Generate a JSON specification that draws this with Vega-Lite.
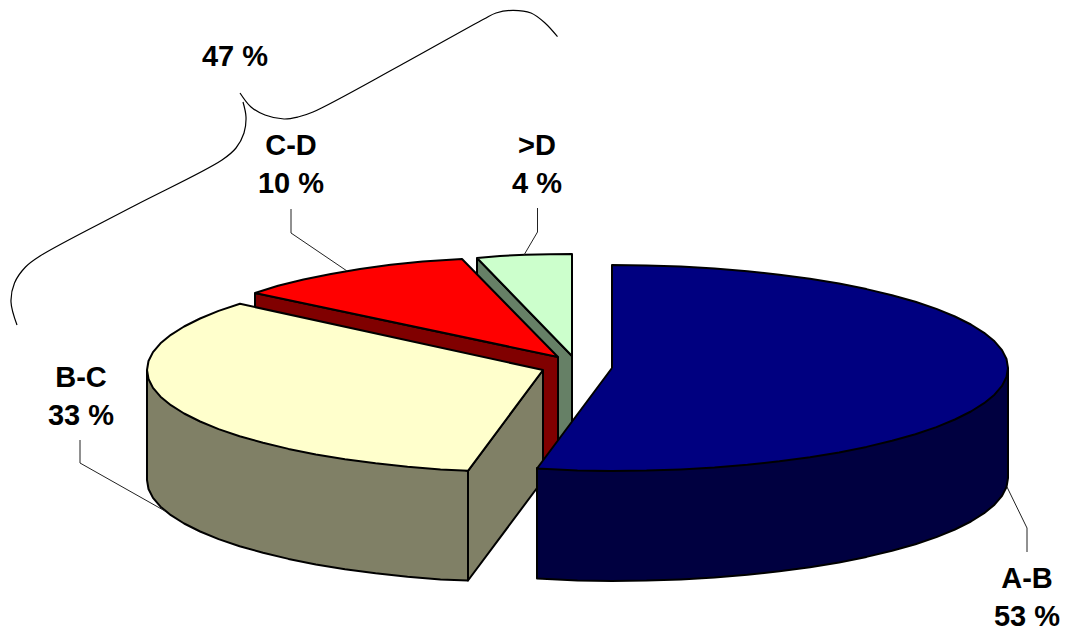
{"$schema":"https://vega.github.io/schema/vega-lite/v6.json","width":1065,"height":628,"autosize":{"type":"none"},"padding":0,"background":"white","view":{"stroke":null},
"datasets":{
"faces":[
{"face":"D side","i":0,"x":477,"y":258},{"face":"D side","i":1,"x":572,"y":356},{"face":"D side","i":2,"x":572,"y":466},{"face":"D side","i":3,"x":477,"y":368},{"face":"D side","i":4,"x":477,"y":258},
{"face":"D top","i":0,"x":572,"y":356},{"face":"D top","i":1,"x":477,"y":258},{"face":"D top","i":2,"x":500,"y":256},{"face":"D top","i":3,"x":525,"y":254.8},{"face":"D top","i":4,"x":550,"y":254.2},{"face":"D top","i":5,"x":572,"y":254},{"face":"D top","i":6,"x":572,"y":356},
{"face":"CD side","i":0,"x":255,"y":293},{"face":"CD side","i":1,"x":558,"y":357},{"face":"CD side","i":2,"x":558,"y":467},{"face":"CD side","i":3,"x":255,"y":403},{"face":"CD side","i":4,"x":255,"y":293},
{"face":"CD top","i":0,"x":558,"y":357},{"face":"CD top","i":1,"x":255,"y":293},{"face":"CD top","i":2,"x":278,"y":285.7},{"face":"CD top","i":3,"x":303.5,"y":279.5},{"face":"CD top","i":4,"x":330.9,"y":274},{"face":"CD top","i":5,"x":360,"y":269},{"face":"CD top","i":6,"x":390.6,"y":264.7},{"face":"CD top","i":7,"x":422.6,"y":261.5},{"face":"CD top","i":8,"x":462,"y":259},{"face":"CD top","i":9,"x":558,"y":357},
{"face":"BC side","i":0,"x":147,"y":370},{"face":"BC side","i":1,"x":147,"y":480},{"face":"BC side","i":2,"x":148.5,"y":489},{"face":"BC side","i":3,"x":153,"y":497.9},{"face":"BC side","i":4,"x":160.5,"y":506.7},{"face":"BC side","i":5,"x":170.9,"y":515.2},{"face":"BC side","i":6,"x":184.1,"y":523.5},{"face":"BC side","i":7,"x":200.1,"y":531.5},{"face":"BC side","i":8,"x":218.6,"y":539.1},{"face":"BC side","i":9,"x":239.6,"y":546.2},{"face":"BC side","i":10,"x":263,"y":552.8},{"face":"BC side","i":11,"x":288.5,"y":558.9},{"face":"BC side","i":12,"x":315.9,"y":564.4},{"face":"BC side","i":13,"x":345,"y":569.2},{"face":"BC side","i":14,"x":375.6,"y":573.3},{"face":"BC side","i":15,"x":407.6,"y":576.8},{"face":"BC side","i":16,"x":440.5,"y":579.5},{"face":"BC side","i":17,"x":468,"y":580.5},{"face":"BC side","i":18,"x":468,"y":471},{"face":"BC side","i":19,"x":147,"y":370},
{"face":"BC cut","i":0,"x":468,"y":471},{"face":"BC cut","i":1,"x":543,"y":370},{"face":"BC cut","i":2,"x":543,"y":480},{"face":"BC cut","i":3,"x":468,"y":580.5},{"face":"BC cut","i":4,"x":468,"y":471},
{"face":"BC top","i":0,"x":543,"y":370},{"face":"BC top","i":1,"x":240,"y":303.8},{"face":"BC top","i":2,"x":218.6,"y":310.9},{"face":"BC top","i":3,"x":200.1,"y":318.5},{"face":"BC top","i":4,"x":184.1,"y":326.5},{"face":"BC top","i":5,"x":170.9,"y":334.8},{"face":"BC top","i":6,"x":160.5,"y":343.3},{"face":"BC top","i":7,"x":153,"y":352.1},{"face":"BC top","i":8,"x":148.5,"y":361},{"face":"BC top","i":9,"x":147,"y":370},{"face":"BC top","i":10,"x":148.5,"y":379},{"face":"BC top","i":11,"x":153,"y":387.9},{"face":"BC top","i":12,"x":160.5,"y":396.7},{"face":"BC top","i":13,"x":170.9,"y":405.2},{"face":"BC top","i":14,"x":184.1,"y":413.5},{"face":"BC top","i":15,"x":200.1,"y":421.5},{"face":"BC top","i":16,"x":218.6,"y":429.1},{"face":"BC top","i":17,"x":239.6,"y":436.2},{"face":"BC top","i":18,"x":263,"y":442.8},{"face":"BC top","i":19,"x":288.5,"y":448.9},{"face":"BC top","i":20,"x":315.9,"y":454.4},{"face":"BC top","i":21,"x":345,"y":459.2},{"face":"BC top","i":22,"x":375.6,"y":463.3},{"face":"BC top","i":23,"x":407.6,"y":466.8},{"face":"BC top","i":24,"x":440.5,"y":469.5},{"face":"BC top","i":25,"x":468,"y":470.8},{"face":"BC top","i":26,"x":543,"y":370},
{"face":"AB side","i":0,"x":1008,"y":368},{"face":"AB side","i":1,"x":1008,"y":478},{"face":"AB side","i":2,"x":1006.5,"y":487},{"face":"AB side","i":3,"x":1002,"y":495.9},{"face":"AB side","i":4,"x":994.5,"y":504.7},{"face":"AB side","i":5,"x":984.1,"y":513.2},{"face":"AB side","i":6,"x":970.9,"y":521.5},{"face":"AB side","i":7,"x":954.9,"y":529.5},{"face":"AB side","i":8,"x":936.4,"y":537.1},{"face":"AB side","i":9,"x":915.4,"y":544.2},{"face":"AB side","i":10,"x":892,"y":550.8},{"face":"AB side","i":11,"x":866.5,"y":556.9},{"face":"AB side","i":12,"x":839.1,"y":562.4},{"face":"AB side","i":13,"x":810,"y":567.2},{"face":"AB side","i":14,"x":779.4,"y":571.3},{"face":"AB side","i":15,"x":747.4,"y":574.8},{"face":"AB side","i":16,"x":714.5,"y":577.5},{"face":"AB side","i":17,"x":680.8,"y":579.4},{"face":"AB side","i":18,"x":646.5,"y":580.6},{"face":"AB side","i":19,"x":612,"y":581},{"face":"AB side","i":20,"x":577.5,"y":580.6},{"face":"AB side","i":21,"x":537,"y":578.5},{"face":"AB side","i":22,"x":537,"y":468},{"face":"AB side","i":23,"x":612,"y":471},{"face":"AB side","i":24,"x":1008,"y":368},
{"face":"AB top","i":0,"x":612,"y":368},{"face":"AB top","i":1,"x":612,"y":265},{"face":"AB top","i":2,"x":646.5,"y":265.4},{"face":"AB top","i":3,"x":680.8,"y":266.6},{"face":"AB top","i":4,"x":714.5,"y":268.5},{"face":"AB top","i":5,"x":747.4,"y":271.2},{"face":"AB top","i":6,"x":779.4,"y":274.7},{"face":"AB top","i":7,"x":810,"y":278.8},{"face":"AB top","i":8,"x":839.1,"y":283.6},{"face":"AB top","i":9,"x":866.5,"y":289.1},{"face":"AB top","i":10,"x":892,"y":295.2},{"face":"AB top","i":11,"x":915.4,"y":301.8},{"face":"AB top","i":12,"x":936.4,"y":308.9},{"face":"AB top","i":13,"x":954.9,"y":316.5},{"face":"AB top","i":14,"x":970.9,"y":324.5},{"face":"AB top","i":15,"x":984.1,"y":332.8},{"face":"AB top","i":16,"x":994.5,"y":341.3},{"face":"AB top","i":17,"x":1002,"y":350.1},{"face":"AB top","i":18,"x":1006.5,"y":359},{"face":"AB top","i":19,"x":1008,"y":368},{"face":"AB top","i":20,"x":1006.5,"y":377},{"face":"AB top","i":21,"x":1002,"y":385.9},{"face":"AB top","i":22,"x":994.5,"y":394.7},{"face":"AB top","i":23,"x":984.1,"y":403.2},{"face":"AB top","i":24,"x":970.9,"y":411.5},{"face":"AB top","i":25,"x":954.9,"y":419.5},{"face":"AB top","i":26,"x":936.4,"y":427.1},{"face":"AB top","i":27,"x":915.4,"y":434.2},{"face":"AB top","i":28,"x":892,"y":440.8},{"face":"AB top","i":29,"x":866.5,"y":446.9},{"face":"AB top","i":30,"x":839.1,"y":452.4},{"face":"AB top","i":31,"x":810,"y":457.2},{"face":"AB top","i":32,"x":779.4,"y":461.3},{"face":"AB top","i":33,"x":747.4,"y":464.8},{"face":"AB top","i":34,"x":714.5,"y":467.5},{"face":"AB top","i":35,"x":680.8,"y":469.4},{"face":"AB top","i":36,"x":646.5,"y":470.6},{"face":"AB top","i":37,"x":612,"y":471},{"face":"AB top","i":38,"x":577.5,"y":470.6},{"face":"AB top","i":39,"x":537,"y":468.5},{"face":"AB top","i":40,"x":612,"y":368}
],
"leaders":[
{"to":"A-B","i":0,"x":1007,"y":487},{"to":"A-B","i":1,"x":1027,"y":528},{"to":"A-B","i":2,"x":1027,"y":552},
{"to":"B-C","i":0,"x":80,"y":440},{"to":"B-C","i":1,"x":80,"y":463},{"to":"B-C","i":2,"x":165,"y":511},
{"to":"C-D","i":0,"x":291,"y":209},{"to":"C-D","i":1,"x":291,"y":233},{"to":"C-D","i":2,"x":347,"y":271},
{"to":">D","i":0,"x":537.5,"y":208},{"to":">D","i":1,"x":537.5,"y":232},{"to":">D","i":2,"x":524,"y":255}
],
"brace":[
{"part":"upper","i":0,"x":557.5,"y":36.7},{"part":"upper","i":1,"x":545,"y":23},{"part":"upper","i":2,"x":531,"y":13},{"part":"upper","i":3,"x":513,"y":10.3},{"part":"upper","i":4,"x":496,"y":13},{"part":"upper","i":5,"x":484,"y":19},{"part":"upper","i":6,"x":400,"y":65.5},{"part":"upper","i":7,"x":313,"y":112},{"part":"upper","i":8,"x":298,"y":117},{"part":"upper","i":9,"x":284,"y":119},{"part":"upper","i":10,"x":265,"y":115},{"part":"upper","i":11,"x":251,"y":107},{"part":"upper","i":12,"x":240,"y":93},
{"part":"lower","i":0,"x":243,"y":102},{"part":"lower","i":1,"x":246,"y":117},{"part":"lower","i":2,"x":244,"y":133},{"part":"lower","i":3,"x":236,"y":148},{"part":"lower","i":4,"x":222,"y":160},{"part":"lower","i":5,"x":130,"y":208},{"part":"lower","i":6,"x":40,"y":256},{"part":"lower","i":7,"x":25.5,"y":267},{"part":"lower","i":8,"x":14.5,"y":283},{"part":"lower","i":9,"x":11,"y":302},{"part":"lower","i":10,"x":17,"y":325}
],
"labels":[
{"label":"47 %","x":235,"y":57},{"label":"C-D","x":291,"y":146},{"label":"10 %","x":291,"y":184},{"label":">D","x":537,"y":146},{"label":"4 %","x":537,"y":184},{"label":"B-C","x":81,"y":378},{"label":"33 %","x":81,"y":416},{"label":"A-B","x":1027,"y":579},{"label":"53 %","x":1027,"y":617}
]},
"layer":[
{"data":{"name":"faces"},"mark":{"type":"line","stroke":"black","strokeWidth":2,"strokeJoin":"round"},
"encoding":{"x":{"field":"x","type":"quantitative","scale":{"domain":[0,1065]},"axis":null},"y":{"field":"y","type":"quantitative","scale":{"domain":[628,0]},"axis":null},"order":{"field":"i","type":"quantitative"},"detail":{"field":"face"},
"fill":{"field":"face","type":"nominal","legend":null,"scale":{"domain":["D side","D top","CD side","CD top","BC side","BC cut","BC top","AB side","AB top"],"range":["#668066","#CCFFCC","#800000","#FF0000","#808066","#808066","#FFFFCC","#000040","#000080"]}}}},
{"data":{"name":"leaders"},"mark":{"type":"line","stroke":"#222222","strokeWidth":1},
"encoding":{"x":{"field":"x","type":"quantitative","scale":{"domain":[0,1065]},"axis":null},"y":{"field":"y","type":"quantitative","scale":{"domain":[628,0]},"axis":null},"order":{"field":"i","type":"quantitative"},"detail":{"field":"to"}}},
{"data":{"name":"brace"},"mark":{"type":"line","stroke":"black","strokeWidth":1.2,"interpolate":"catmull-rom"},
"encoding":{"x":{"field":"x","type":"quantitative","scale":{"domain":[0,1065]},"axis":null},"y":{"field":"y","type":"quantitative","scale":{"domain":[628,0]},"axis":null},"order":{"field":"i","type":"quantitative"},"detail":{"field":"part"}}},
{"data":{"name":"labels"},"mark":{"type":"text","font":"Liberation Sans","fontWeight":"bold","fontSize":29,"align":"center","baseline":"middle","color":"black"},
"encoding":{"x":{"field":"x","type":"quantitative","scale":{"domain":[0,1065]},"axis":null},"y":{"field":"y","type":"quantitative","scale":{"domain":[628,0]},"axis":null},"text":{"field":"label"}}}
]}
